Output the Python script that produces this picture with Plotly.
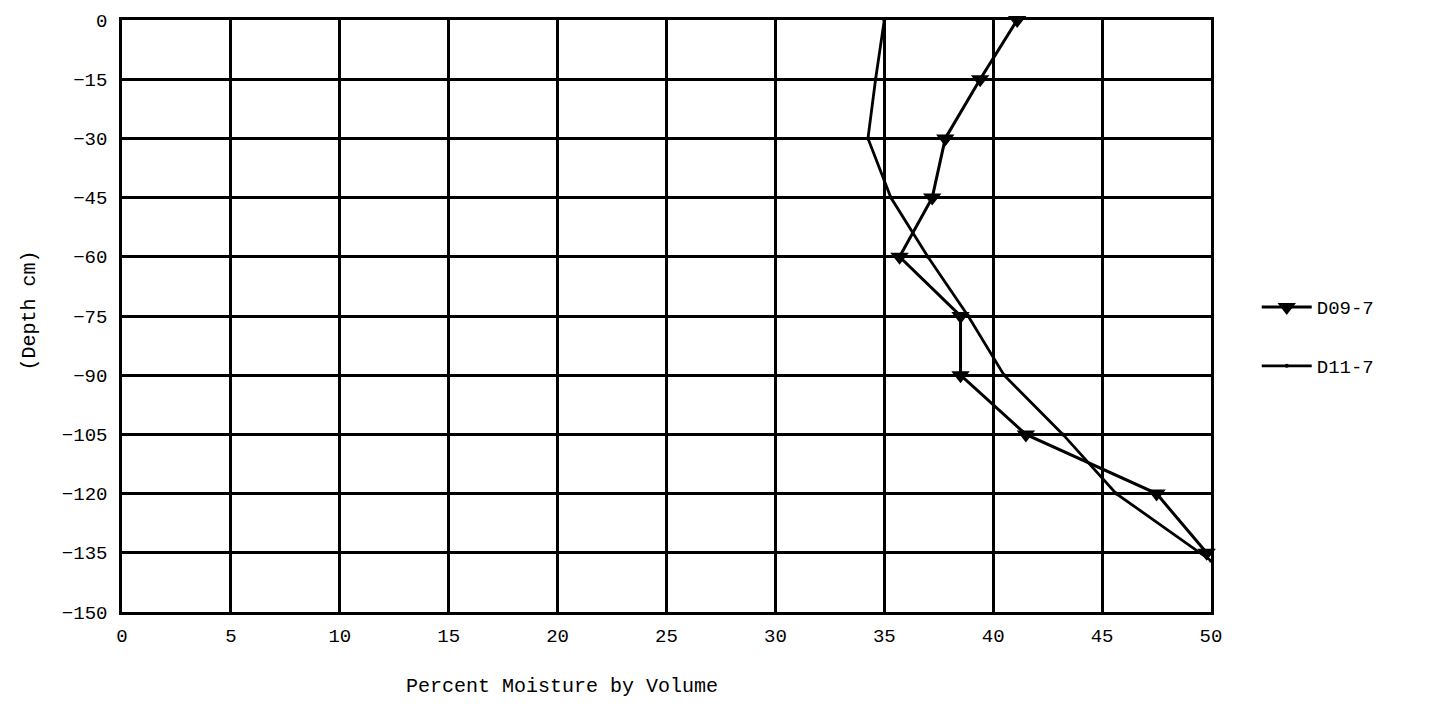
import plotly.graph_objects as go

depth = [0, -15, -30, -45, -60, -75, -90, -105, -120, -135]
d09_7 = [41.1, 39.4, 37.8, 37.2, 35.7, 38.5, 38.5, 41.5, 47.5, 49.8]
d11_depth = [0, -15, -30, -45, -60, -75, -90, -105, -120, -137]
d11_7 = [35.0, 34.6, 34.25, 35.3, 37.0, 38.85, 40.5, 43.2, 45.65, 50.0]

x_ticks = [0, 5, 10, 15, 20, 25, 30, 35, 40, 45, 50]
y_ticks = [0, -15, -30, -45, -60, -75, -90, -105, -120, -135, -150]

FONT = "Liberation Mono, Courier New, monospace"

fig = go.Figure()
fig.add_trace(go.Scatter(
    x=d09_7, y=depth, mode="lines+markers", name="D09-7",
    line=dict(color="black", width=3),
    marker=dict(symbol="triangle-down", size=16, color="black"),
    legend="legend", showlegend=True, cliponaxis=False,
))
fig.add_trace(go.Scatter(
    x=d11_7, y=d11_depth, mode="lines+markers", name="D11-7",
    line=dict(color="black", width=2.8),
    marker=dict(symbol="circle", size=4, color="black"),
    legend="legend2", showlegend=True,
))

axis_common = dict(
    showgrid=True, gridcolor="black", gridwidth=2.5,
    showline=True, linecolor="black", linewidth=2.5, mirror=True,
    zeroline=False, ticks="", tickfont=dict(family=FONT, size=19, color="black"),
)

fig.update_xaxes(range=[0, 50], tickvals=x_ticks, ticklabelstandoff=4, **axis_common)
fig.update_yaxes(range=[-150, 0], tickvals=y_ticks, ticklabelstandoff=8, **axis_common)

fig.update_layout(
    width=1439, height=707,
    showlegend=True,
    margin=dict(l=122, r=228, t=20, b=95),
    paper_bgcolor="white", plot_bgcolor="white",
    font=dict(family=FONT, size=19, color="black"),
    legend=dict(x=1.042, y=0.515, xanchor="left", yanchor="middle", visible=True,
                itemwidth=50,
                font=dict(family=FONT, size=19), bgcolor="rgba(0,0,0,0)"),
    legend2=dict(x=1.042, y=0.4155, xanchor="left", yanchor="middle", visible=True,
                 itemwidth=50,
                 font=dict(family=FONT, size=19), bgcolor="rgba(0,0,0,0)"),
    annotations=[
        dict(text="Percent Moisture by Volume", xref="paper", yref="paper",
             x=0.404, y=-0.125, xanchor="center", yanchor="middle",
             showarrow=False, font=dict(family=FONT, size=20)),
        dict(text="(Depth cm)", xref="paper", yref="paper",
             x=-0.085, y=0.51, xanchor="center", yanchor="middle", textangle=-90,
             showarrow=False, font=dict(family=FONT, size=20)),
    ],
)

fig.write_html("out.html")
